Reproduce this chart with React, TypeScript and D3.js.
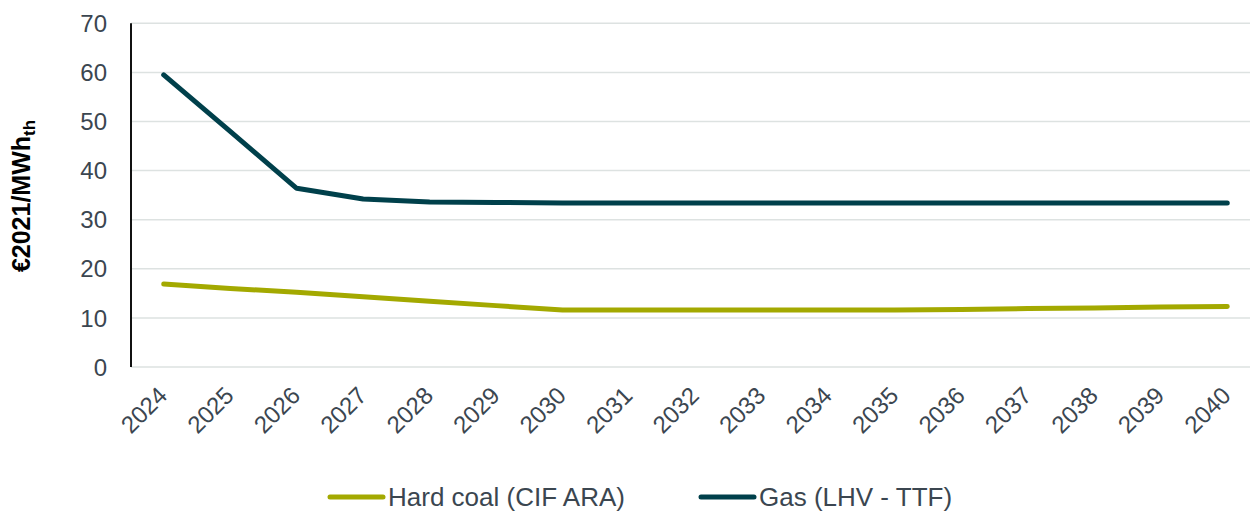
import React from "react";
import * as d3 from "d3";

const years = ["2024","2025","2026","2027","2028","2029","2030","2031","2032","2033","2034","2035","2036","2037","2038","2039","2040"];
const coal = [16.9, 16.0, 15.2, 14.3, 13.4, 12.5, 11.6, 11.6, 11.6, 11.6, 11.6, 11.6, 11.7, 11.9, 12.0, 12.2, 12.3];
const gas = [59.5, 48.0, 36.4, 34.2, 33.6, 33.5, 33.4, 33.4, 33.4, 33.4, 33.4, 33.4, 33.4, 33.4, 33.4, 33.4, 33.4];
const yTicks = [0, 10, 20, 30, 40, 50, 60, 70];
const seriesNames = ["Hard coal (CIF ARA)", "Gas (LHV - TTF)"];
const colors = ["#a3a900", "#00404b"];

export default function App() {
  const W = 1250, H = 511;
  const x = d3.scaleBand<string>().domain(years).range([130.5, 1260.5]);
  const y = d3.scaleLinear().domain([0, 70]).range([367, 23.3]);
  const cx = (d: string) => (x(d) as number) + x.bandwidth() / 2;
  const line = d3.line<number>().x((_, i) => cx(years[i])).y((v) => y(v));
  const font = "Liberation Sans, Arial, sans-serif";
  const textColor = "#3b4650";
  const legendX = [330, 701];
  return (
    <svg width={W} height={H} style={{ position: "absolute", left: 0, top: 0, background: "#fff" }} fontFamily={font}>
      {yTicks.map((t) => (
        <g key={t}>
          <line x1={131} x2={W} y1={y(t)} y2={y(t)} stroke="#dde2e1" strokeWidth={1.5} />
          <text x={107} y={y(t)} dy="0.36em" textAnchor="end" fontSize={24} fill={textColor}>{t}</text>
        </g>
      ))}
      <line x1={131} x2={131} y1={y(70)} y2={y(0)} stroke="#111" strokeWidth={2} />
      {years.map((yr) => (
        <text key={yr} transform={`translate(${cx(yr) + 5},${397}) rotate(-45)`} textAnchor="end" fontSize={24} fill={textColor}>{yr}</text>
      ))}
      <text transform={`translate(30,196) rotate(-90)`} textAnchor="middle" fontSize={25} fontWeight="bold" fill="#000">
        €2021/MWh<tspan fontSize={17} dy={5}>th</tspan>
      </text>
      {[coal, gas].map((s, i) => (
        <path key={i} d={line(s) as string} fill="none" stroke={colors[i]} strokeWidth={5} strokeLinecap="round" strokeLinejoin="round" />
      ))}
      {seriesNames.map((n, i) => (
        <g key={n}>
          <line x1={legendX[i]} x2={legendX[i] + 53} y1={497} y2={497} stroke={colors[i]} strokeWidth={5} strokeLinecap="round" />
          <text x={legendX[i] + 58} y={497} dy="0.35em" fontSize={26} fill={textColor}>{n}</text>
        </g>
      ))}
    </svg>
  );
}
